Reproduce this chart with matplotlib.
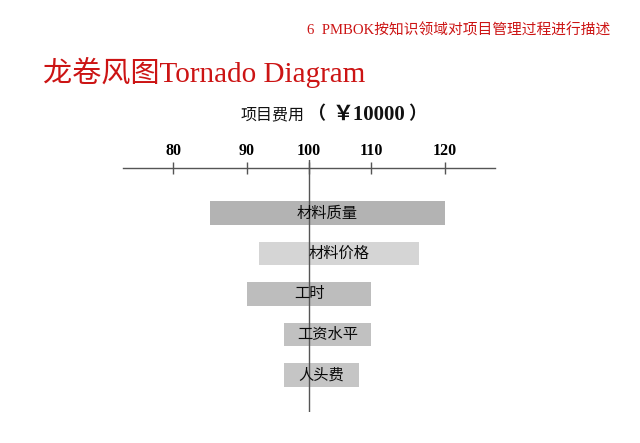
import matplotlib
matplotlib.use('Agg')
import matplotlib.pyplot as plt
import numpy as np

factors = ['材料质量', '材料价格', '工时', '工资水平', '人头费']
low = [85, 92, 90, 96, 96]
high = [120, 116.5, 110, 110, 108]
colors = ['#b3b3b3', '#d5d5d5', '#bdbdbd', '#c1c1c1', '#c5c5c5']
ticks = [80, 90, 100, 110, 120]
base = 100

# the original axis is drawn with uneven tick spacing; reproduce it
knots = [70, 80, 90, 100, 110, 120, 130]
knot_pos = [-74, 0, 74, 136, 198, 272, 346]


def fwd(x):
    return np.interp(x, knots, knot_pos)


def inv(y):
    return np.interp(y, knot_pos, knots)


W, H = 640, 443
fig = plt.figure(figsize=(W / 100, H / 100), dpi=100)

serif_cjk = ['Liberation Serif', 'Noto Sans CJK SC']
red = '#cc1414'

fig.text(307 / W, 1 - 30 / H, '6  PMBOK按知识领域对项目管理过程进行描述',
         family=serif_cjk, fontsize=10.6, color=red, va='center', ha='left')
fig.text(43 / W, 1 - 72 / H, '龙卷风图Tornado Diagram',
         family=serif_cjk, fontsize=21, color=red, va='center', ha='left')

# subtitle: 项目费用 （￥10000）
sub_y = 1 - 115 / H
fig.text(241 / W, sub_y, '项目费用', family=['Noto Sans CJK SC'],
         fontsize=11.5, color='#111111', va='center', ha='left')
fig.text(307 / W, sub_y, '（', family=serif_cjk, fontsize=13,
         weight='bold', color='#111111', va='center', ha='left')
fig.text(369 / W, sub_y, '￥10000', family=serif_cjk, fontsize=15,
         weight='bold', color='#111111', va='center', ha='center')
fig.text(408 / W, sub_y, '）', family=serif_cjk, fontsize=13,
         weight='bold', color='#111111', va='center', ha='left')

# axes: x from pixel 123 to 495, y from pixel 160 to 412
ax = fig.add_axes([123 / W, 1 - 412 / H, 372 / W, 252 / H])
ax.set_xscale('function', functions=(fwd, inv))
ax.set_xlim(80 - 50 / 7.4, 120 + 50 / 7.4)
ax.set_ylim(4.914, -1.309)

for i, (lo, hi, c) in enumerate(zip(low, high, colors)):
    ax.barh(i, hi - lo, left=lo, height=0.59, color=c, edgecolor='none', zorder=1)
    mid = inv((fwd(lo) + fwd(hi)) / 2)
    ax.text(mid, i, factors[i], family=['Noto Sans CJK SC'],
            fontsize=11, ha='center', va='center', color='#0a0a0a', zorder=3)

ax.axvline(base, color='#555555', lw=1, zorder=2)

for s in ['left', 'right', 'bottom']:
    ax.spines[s].set_visible(False)
ax.spines['top'].set_position(('data', -1.12))
ax.spines['top'].set_color('#555555')
ax.spines['top'].set_linewidth(1)
ax.xaxis.set_ticks_position('top')
ax.set_xticks(ticks)
ax.set_xticks([], minor=True)
ax.set_xticklabels([str(t) for t in ticks], family='Liberation Serif',
                   weight='bold', fontsize=11.5)
ax.tick_params(axis='x', direction='inout', length=8.5, width=1,
               color='#555555', pad=2)
ax.set_yticks([])
ax.patch.set_alpha(0)

fig.savefig('out.png', dpi=100)
